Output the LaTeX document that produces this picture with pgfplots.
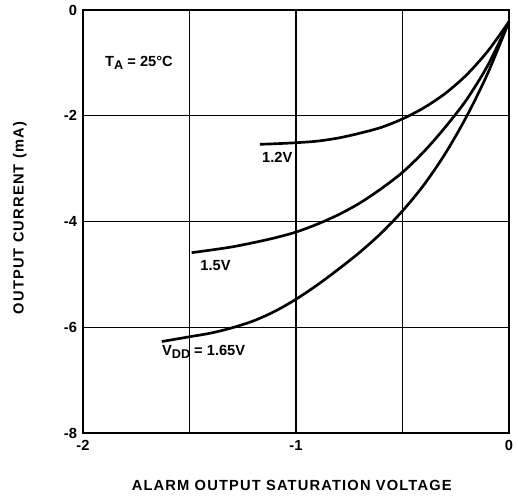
\documentclass[border=0pt]{standalone}
\usepackage{fontspec}
\setmainfont{Liberation Sans}
\usepackage{pgfplots}
\pgfplotsset{compat=1.18}
\newcommand{\sub}[1]{\raisebox{-0.4ex}{\fontsize{9.5}{11}\selectfont #1}}
\begin{document}
\begin{tikzpicture}[x=1pt,y=1pt]
\def\px{0.75pt}
\begin{axis}[
  name=ax,
  scale only axis,
  width=319.5pt, height=317.25pt,
  xmin=-2, xmax=0, ymin=-8, ymax=0,
  xtick={-2,-1,0}, minor xtick={-1.5,-0.5},
  ytick={-8,-6,-4,-2,0},
  grid=both,
  major grid style={black, line width=0.9pt},
  minor grid style={black, line width=0.9pt},
  axis line style={black, line width=1pt},
  major tick length=0pt, minor tick length=0pt,
  tick label style={font=\fontsize{11}{13}\selectfont\bfseries},
  /pgf/number format/assume math mode=true,
  xticklabel style={yshift=-2pt},
  yticklabel style={xshift=-1pt},
  xlabel={\addfontfeatures{LetterSpace=8}ALARM OUTPUT SATURATION VOLTAGE},
  ylabel={\addfontfeatures{LetterSpace=8}OUTPUT CURRENT (mA)},
  label style={font=\fontsize{11}{13}\selectfont\bfseries},
  xlabel style={at={(axis description cs:0.49,-0.125)}, anchor=center},
  ylabel style={at={(axis description cs:-0.148,0.508)}, anchor=center, rotate=0},
  clip=false,
]
\addplot[black, line width=2pt, smooth] coordinates {
 (-1.17,-2.54) (-1.1,-2.53) (-1.0,-2.51) (-0.9,-2.48) (-0.8,-2.42) (-0.7,-2.33)
 (-0.6,-2.22) (-0.5,-2.06) (-0.4,-1.85) (-0.3,-1.58) (-0.2,-1.23) (-0.1,-0.78) (0,-0.22)};
\addplot[black, line width=2pt, smooth] coordinates {
 (-1.49,-4.59) (-1.4,-4.54) (-1.3,-4.48) (-1.2,-4.40) (-1.1,-4.31) (-1.0,-4.20)
 (-0.9,-4.05) (-0.8,-3.87) (-0.7,-3.65) (-0.6,-3.38) (-0.5,-3.07) (-0.4,-2.68)
 (-0.3,-2.22) (-0.2,-1.70) (-0.1,-1.05) (0,-0.22)};
\addplot[black, line width=2pt, smooth] coordinates {
 (-1.63,-6.27) (-1.5,-6.18) (-1.4,-6.11) (-1.3,-6.01) (-1.2,-5.88) (-1.1,-5.70)
 (-1.0,-5.47) (-0.9,-5.20) (-0.8,-4.90) (-0.7,-4.58) (-0.6,-4.22) (-0.5,-3.80)
 (-0.4,-3.31) (-0.3,-2.72) (-0.2,-2.02) (-0.1,-1.20) (0,-0.22)};
\node[anchor=west, font=\fontsize{11}{13}\selectfont\bfseries, inner sep=0pt] at (axis cs:-1.897,-1.0) {T\sub{A} = 25°C};
\node[anchor=west, font=\fontsize{11}{13}\selectfont\bfseries, inner sep=0pt] at (axis cs:-1.16,-2.78) {1.2V};
\node[anchor=west, font=\fontsize{11}{13}\selectfont\bfseries, inner sep=0pt] at (axis cs:-1.45,-4.84) {1.5V};
\node[anchor=west, font=\fontsize{11}{13}\selectfont\bfseries, inner sep=0pt] at (axis cs:-1.63,-6.47) {V\sub{DD} = 1.65V};
\end{axis}
\pgfresetboundingbox
\path (ax.south west) ++(-83*\px,-68*\px) coordinate (bl);
\path (ax.south west) ++(435*\px,433*\px) coordinate (tr);
\path[use as bounding box] (bl) rectangle (tr);
\end{tikzpicture}
\end{document}
